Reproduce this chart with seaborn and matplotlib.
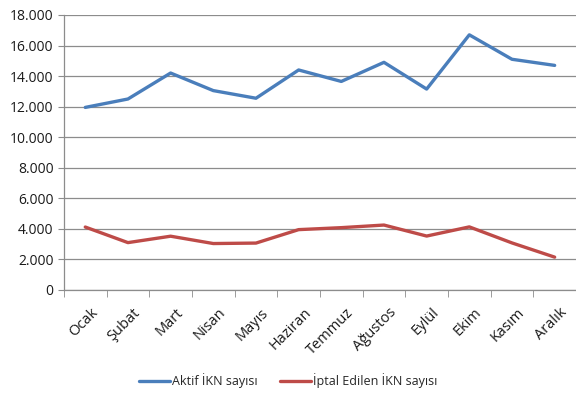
import numpy as np
import pandas as pd
import matplotlib
matplotlib.use("Agg")
import matplotlib.pyplot as plt
import matplotlib.transforms as mtransforms
import seaborn as sns
from matplotlib.ticker import FuncFormatter, FixedLocator

months = ["Ocak", "Şubat", "Mart", "Nisan", "Mayıs", "Haziran",
          "Temmuz", "Ağustos", "Eylül", "Ekim", "Kasım", "Aralık"]
aktif = [11950, 12500, 14200, 13050, 12550, 14400,
         13650, 14900, 13150, 16700, 15100, 14700]
iptal = [4120, 3100, 3520, 3040, 3070, 3950,
         4080, 4250, 3530, 4130, 3080, 2150]
series_names = ["Aktif İKN sayısı", "İptal Edilen İKN sayısı"]
colors = ["#4A7EBB", "#BE4B48"]

df = pd.DataFrame({
    "ay": months * 2,
    "deger": aktif + iptal,
    "seri": [series_names[0]] * 12 + [series_names[1]] * 12,
})

sns.set_style("white")
plt.rcParams["font.family"] = ["Open Sans", "DejaVu Sans"]

fig = plt.figure(figsize=(5.76, 3.94), dpi=100)
ax = fig.add_axes([0.111, 0.264, 0.889, 0.698])

sns.lineplot(data=df, x="ay", y="deger", hue="seri", palette=colors,
             linewidth=2.4, sort=False, ax=ax)

ax.set_ylim(0, 18000)
ax.set_xlim(-0.5, 11.5)
ax.set_yticks(np.arange(0, 18001, 2000))
ax.yaxis.set_major_formatter(FuncFormatter(lambda v, p: f"{int(v):,}".replace(",", ".")))
ax.grid(axis="y", color="#8c8c8c", linewidth=0.9)
ax.set_axisbelow(True)

ax.set_xticks(range(12))
ax.set_xticklabels(months, rotation=45, ha="right", rotation_mode="anchor")
ax.xaxis.set_minor_locator(FixedLocator(np.arange(-0.5, 12, 1)))
ax.tick_params(axis="x", which="major", length=0, pad=11, labelsize=10.5, colors="#1a1a1a")
ax.tick_params(axis="x", which="minor", length=5, color="#8c8c8c", bottom=True)
ax.tick_params(axis="y", length=4, color="#8c8c8c", labelsize=10, colors="#1a1a1a", left=True)

# nudge rotated labels a bit right, like the original
shift = mtransforms.ScaledTranslation(0.05, 0, fig.dpi_scale_trans)
for lab in ax.get_xticklabels():
    lab.set_transform(lab.get_transform() + shift)

for s in ["top", "right"]:
    ax.spines[s].set_visible(False)
for s in ["left", "bottom"]:
    ax.spines[s].set_color("#8c8c8c")
    ax.spines[s].set_linewidth(0.9)

ax.set_xlabel("")
ax.set_ylabel("")
handles, labels = ax.get_legend_handles_labels()
ax.legend(handles, labels, loc="center", bbox_to_anchor=(0.5, 1 - 381 / 394),
          bbox_transform=fig.transFigure, ncol=2, frameon=False, fontsize=9,
          handlelength=2.5, handletextpad=0.15, columnspacing=1.8)

fig.savefig("out.png", dpi=100)
